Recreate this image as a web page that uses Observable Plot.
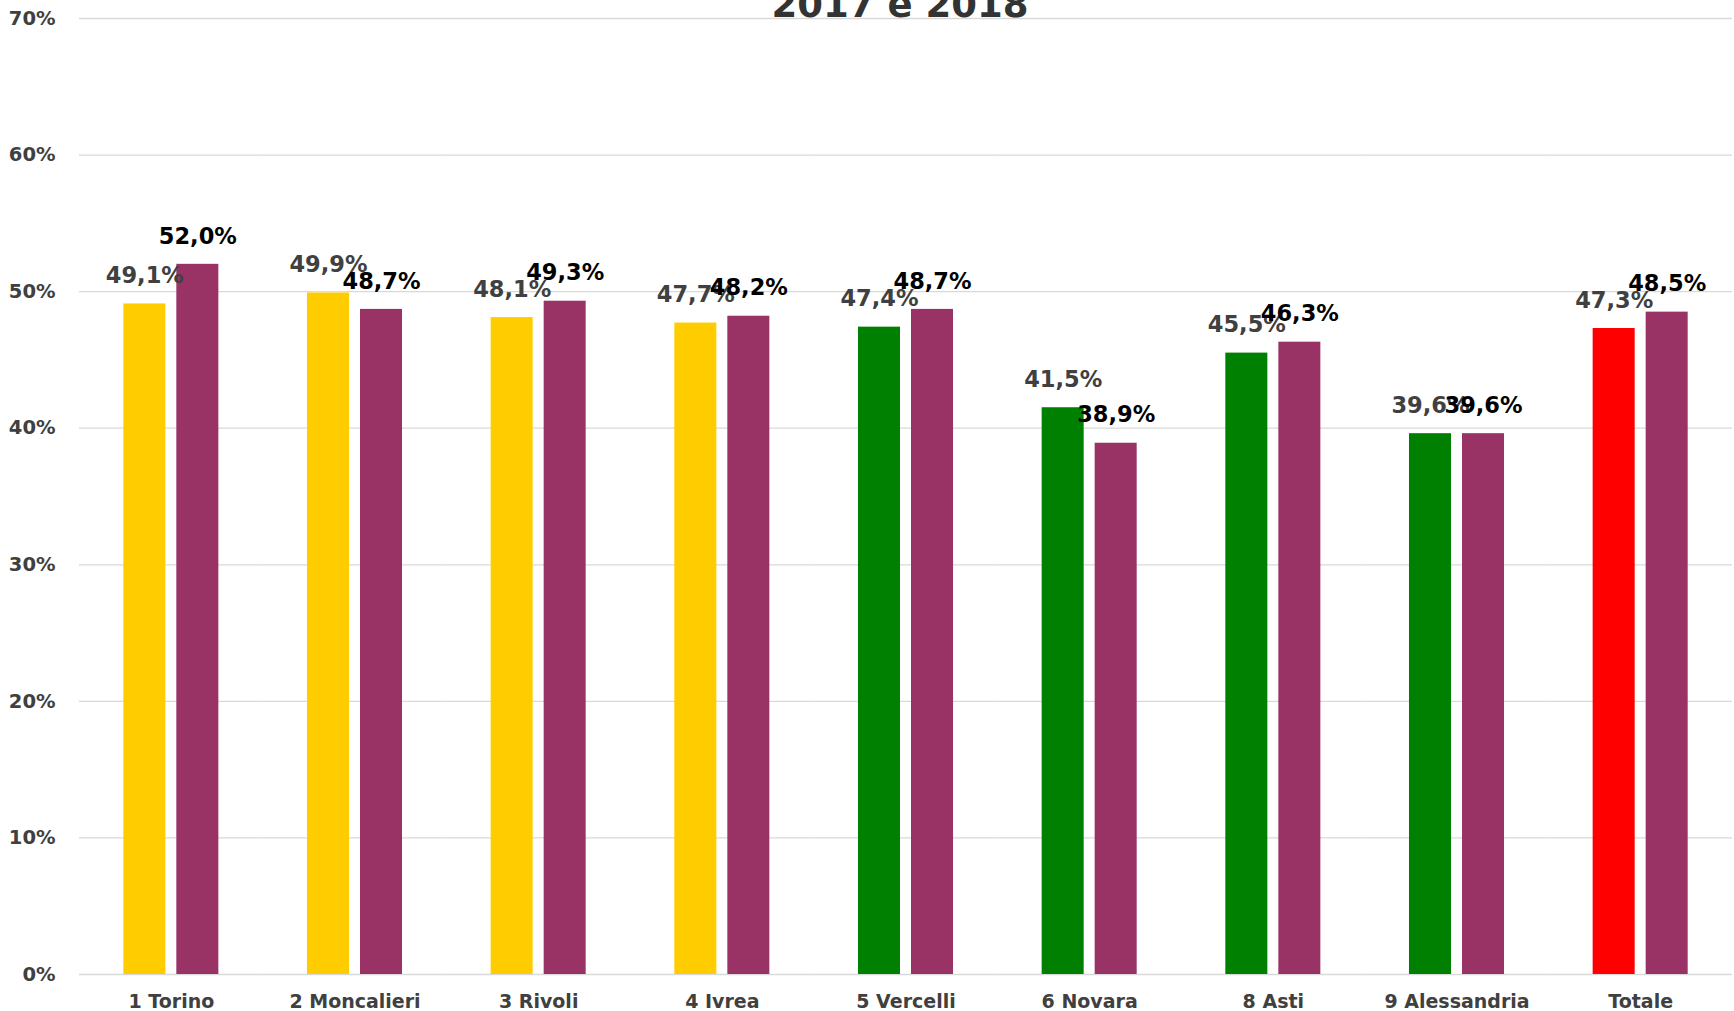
<!DOCTYPE html>
<html><head><meta charset="utf-8">
<script src="https://cdn.jsdelivr.net/npm/d3@7"></script>
<script src="https://cdn.jsdelivr.net/npm/@observablehq/plot@0.6"></script>
<style>
html,body{margin:0;padding:0;background:#fff;overflow:hidden}
#wrap{position:relative;width:1734px;height:1011px;overflow:hidden}
#title{position:absolute;top:-14px;left:900px;transform:translateX(-50%);font:bold 37px/37px "DejaVu Sans";color:#333333;white-space:nowrap;z-index:2}
</style></head><body>
<div id="wrap"><div id="title">2017 e 2018</div><div id="chart"></div></div>
<script>
const categories = ["1 Torino","2 Moncalieri","3 Rivoli","4 Ivrea","5 Vercelli","6 Novara","8 Asti","9 Alessandria","Totale"];
const years = ["2017","2018"];
const values2017 = [49.1,49.9,48.1,47.7,47.4,41.5,45.5,39.6,47.3];
const values2018 = [52.0,48.7,49.3,48.2,48.7,38.9,46.3,39.6,48.5];
const colors2017 = ["#FFCC00","#FFCC00","#FFCC00","#FFCC00","#008000","#008000","#008000","#008000","#FF0000"];
const color2018 = "#993366";
const labelInk = {"2017":"#404040","2018":"#000000"};
const yTicks = [0,10,20,30,40,50,60,70];

const rows = categories.flatMap((c,i)=>[
  {cat:c, year:"2017", value:values2017[i], fill:colors2017[i], ink:labelInk["2017"]},
  {cat:c, year:"2018", value:values2018[i], fill:color2018, ink:labelInk["2018"]}
]);
const fmt = v => v.toFixed(1).replace(".", ",") + "%";

const chart = Plot.plot({
  width:1734, height:1011, marginTop:18, marginBottom:37, marginLeft:79, marginRight:2,
  style:{fontFamily:"DejaVu Sans", background:"#fff", overflow:"visible"},
  fx:{domain:categories, padding:0, round:false, label:null},
  x:{domain:years, paddingInner:0.2075, paddingOuter:0.836, round:false, axis:null},
  y:{domain:[0,70], label:null},
  color:{type:"identity"},
  marks:[
    Plot.gridY(yTicks,{stroke:"#d9d9d9", strokeOpacity:1, strokeWidth:1.3}),
    Plot.barY(rows,{fx:"cat", x:"year", y:"value", fill:"fill"}),
    Plot.text(rows,{fx:"cat", x:"year", y:"value", text:d=>fmt(d.value), fill:"ink", dy:-28, fontSize:22.5, fontWeight:"bold", lineAnchor:"middle"}),
    Plot.axisY({ticks:yTicks, tickSize:0, tickPadding:24, tickFormat:d=>d+"%", fontSize:19.5, fontWeight:"bold", fill:"#404040", label:null}),
    Plot.axisFx({anchor:"bottom", tickSize:0, tickPadding:20, fontSize:19, fontWeight:"bold", fill:"#404040", label:null})
  ]
});
document.getElementById("chart").appendChild(chart);
</script>
</body></html>
